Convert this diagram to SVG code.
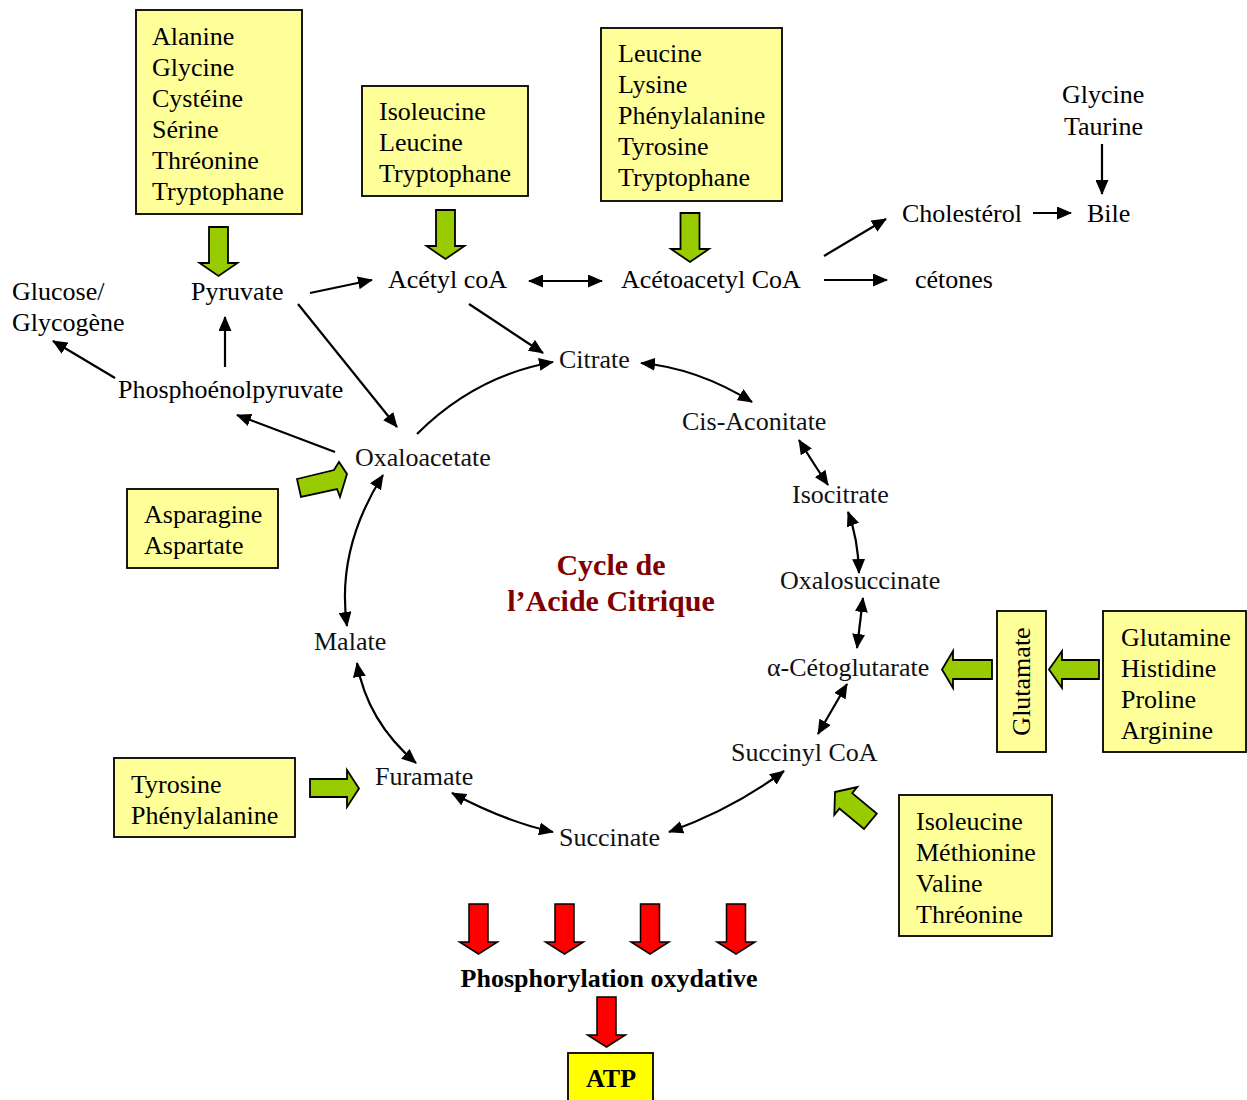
<svg xmlns="http://www.w3.org/2000/svg" width="1247" height="1100" viewBox="0 0 1247 1100">
<style>
text{font-family:"Liberation Serif","Times New Roman",serif;font-size:26px;fill:#000}
.c{fill:#111}
.box{fill:#FFFF99;stroke:#000;stroke-width:1.8}
.g{fill:#99CC00;stroke:#000;stroke-width:1.8;stroke-linejoin:miter}
.r{fill:#FF0000;stroke:#000;stroke-width:1.5}
.ln{fill:none;stroke:#000;stroke-width:2.2}
.t{font-weight:bold;font-size:30px;fill:#800000}
.b{font-weight:bold}
</style>
<defs>
<marker id="ah" markerUnits="userSpaceOnUse" markerWidth="15" markerHeight="13" refX="14" refY="6.5" orient="auto-start-reverse"><path d="M0,0 L15,6.5 L0,13 Z" fill="#000"/></marker>
<path id="gdown" d="M-9.5,0 H9.5 V36 H19 L0,49 L-19,36 H-9.5 Z"/>
<path id="rdown" d="M-9.5,0 H9.5 V38 H19 L0,50 L-19,38 H-9.5 Z"/>
</defs>

<g id="box-alanine"><rect class="box" x="136" y="10" width="166" height="204"/>
<text x="152" y="45">Alanine</text><text x="152" y="76">Glycine</text><text x="152" y="107">Cystéine</text><text x="152" y="138">Sérine</text><text x="152" y="169">Thréonine</text><text x="152" y="200">Tryptophane</text></g>
<g id="box-isoleucine"><rect class="box" x="362" y="86" width="166" height="110"/>
<text x="379" y="120">Isoleucine</text><text x="379" y="151">Leucine</text><text x="379" y="182">Tryptophane</text></g>
<g id="box-leucine"><rect class="box" x="601" y="28" width="181" height="173"/>
<text x="618" y="62">Leucine</text><text x="618" y="93">Lysine</text><text x="618" y="124">Phénylalanine</text><text x="618" y="155">Tyrosine</text><text x="618" y="186">Tryptophane</text></g>
<g id="box-asparagine"><rect class="box" x="127" y="489" width="151" height="79"/>
<text x="144" y="523">Asparagine</text><text x="144" y="554">Aspartate</text></g>
<g id="box-tyrosine"><rect class="box" x="114" y="758" width="181" height="79"/>
<text x="131" y="793">Tyrosine</text><text x="131" y="824">Phénylalanine</text></g>
<g id="box-glutamate"><rect class="box" x="997" y="611" width="49" height="141"/>
<text transform="translate(1030,681.5) rotate(-90)" text-anchor="middle">Glutamate</text></g>
<g id="box-glutamine"><rect class="box" x="1103" y="611" width="143" height="141"/>
<text x="1121" y="646">Glutamine</text><text x="1121" y="677">Histidine</text><text x="1121" y="708">Proline</text><text x="1121" y="739">Arginine</text></g>
<g id="box-isoleucine2"><rect class="box" x="899" y="795" width="153" height="141"/>
<text x="916" y="830">Isoleucine</text><text x="916" y="861">Méthionine</text><text x="916" y="892">Valine</text><text x="916" y="923">Thréonine</text></g>
<g id="box-atp"><rect x="568" y="1053" width="85" height="60" fill="#FFFF00" stroke="#000" stroke-width="1.8"/>
<text class="b" x="611" y="1087" text-anchor="middle">ATP</text></g>

<g id="glucose"><text x="12" y="300">Glucose/</text><text x="12" y="331">Glycogène</text></g>
<g id="pyruvate"><text x="191" y="300">Pyruvate</text></g>
<g id="pep"><text x="118" y="398">Phosphoénolpyruvate</text></g>
<g id="acetylcoa"><text x="388" y="288">Acétyl coA</text></g>
<g id="acetoacetyl"><text x="621" y="288">Acétoacetyl CoA</text></g>
<g id="cholesterol"><text x="902" y="222">Cholestérol</text></g>
<g id="bile"><text x="1087" y="222">Bile</text></g>
<g id="glycine-taurine"><text x="1062" y="103">Glycine</text><text x="1064" y="135">Taurine</text></g>
<g id="cetones"><text x="915" y="288">cétones</text></g>
<g id="citrate"><text class="c" x="559" y="368">Citrate</text></g>
<g id="cisaconitate"><text class="c" x="682" y="430">Cis-Aconitate</text></g>
<g id="isocitrate"><text class="c" x="792" y="503">Isocitrate</text></g>
<g id="oxalosuccinate"><text class="c" x="780" y="589">Oxalosuccinate</text></g>
<g id="cetoglutarate"><text class="c" x="767" y="676">α-Cétoglutarate</text></g>
<g id="succinylcoa"><text class="c" x="731" y="761">Succinyl CoA</text></g>
<g id="succinate"><text class="c" x="559" y="846">Succinate</text></g>
<g id="furamate"><text class="c" x="375" y="785">Furamate</text></g>
<g id="malate"><text class="c" x="314" y="650">Malate</text></g>
<g id="oxaloacetate"><text class="c" x="355" y="466">Oxaloacetate</text></g>
<g id="title"><text class="t" x="611" y="575" text-anchor="middle">Cycle de</text><text class="t" x="611" y="611" text-anchor="middle">l’Acide Citrique</text></g>
<g id="phosphorylation"><text class="b" x="609" y="987" text-anchor="middle">Phosphorylation oxydative</text></g>

<g id="connectors">
<g class="ln" marker-end="url(#ah)">
<line x1="310" y1="293" x2="372" y2="280"/>
<line x1="298" y1="304" x2="397" y2="427"/>
<line x1="225" y1="367" x2="225" y2="317"/>
<line x1="115" y1="378" x2="53" y2="341"/>
<line x1="335" y1="452" x2="237" y2="415"/>
<line x1="469" y1="304" x2="543" y2="353"/>
<line x1="824" y1="256" x2="886" y2="219"/>
<line x1="824" y1="280" x2="887" y2="280"/>
<line x1="1033" y1="213" x2="1071" y2="213"/>
<line x1="1102" y1="144" x2="1102" y2="194"/>
<path d="M417,434 Q475,376 553,362"/>
</g>
<g class="ln" marker-start="url(#ah)" marker-end="url(#ah)">
<line x1="529" y1="281" x2="602" y2="281"/>
<path d="M641,363 Q697,368 752,402"/>
<path d="M799,440 Q815,466 828,485"/>
<path d="M848,512 Q858,538 859,573"/>
<line x1="863" y1="598" x2="857" y2="648"/>
<line x1="847" y1="684" x2="818" y2="734"/>
<path d="M784,771 Q733,809 669,832"/>
<path d="M553,832 Q504,821 452,793"/>
<path d="M416,763 Q367,721 357,663"/>
<path d="M347,626 Q336,549 383,475"/>
</g>
<use href="#gdown" class="g" x="218.5" y="227"/>
<use href="#gdown" class="g" x="445.5" y="210"/>
<use href="#gdown" class="g" x="690" y="213"/>
<polygon class="g" points="297,479 334,470 339,462 347,474 340,497 337,489 301,497"/>
<polygon class="g" points="310,779 347,779 347,770 359,788.5 347,807 347,797 310,797"/>
<polygon class="g" points="992,660 953,660 953,651 942,669.5 953,688 953,679 992,679"/>
<polygon class="g" points="1099,660 1062,660 1062,651 1049,669.5 1062,688 1062,679 1099,679"/>
<polygon class="g" points="835,792 857.3,787 852.2,793.2 876.8,813.6 864,829 839.4,808.6 834.3,814.8"/>
<use href="#rdown" class="r" x="478.5" y="904"/>
<use href="#rdown" class="r" x="564.5" y="904"/>
<use href="#rdown" class="r" x="650" y="904"/>
<use href="#rdown" class="r" x="736" y="904"/>
<use href="#rdown" class="r" x="606.5" y="997"/>
</g>
</svg>
